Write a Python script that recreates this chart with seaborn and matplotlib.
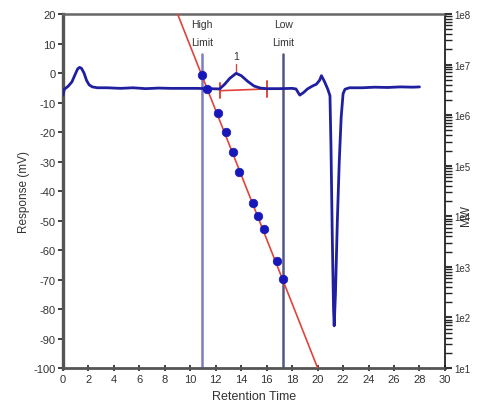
import math
import matplotlib
matplotlib.use("Agg")
import matplotlib.pyplot as plt
import seaborn as sns
import pandas as pd
from matplotlib.ticker import FixedLocator, LogLocator, FuncFormatter, NullFormatter

sns.set_style("ticks")
plt.rcParams["font.family"] = ["Liberation Sans", "DejaVu Sans"]
plt.rcParams["axes.unicode_minus"] = False

# Detector trace (retention time in min, response in mV)
trace_time = [0.0, 0.1, 0.4, 0.7, 0.95, 1.15, 1.3, 1.45, 1.65, 1.85, 2.05, 2.3, 2.7,
              3.5, 4.5, 5.5, 6.5, 7.5, 8.5, 9.5, 10.5, 11.5, 12.3, 12.7, 13.1, 13.6,
              14.0, 14.5, 15.0, 15.5, 16.0, 17.0, 18.0, 18.3, 18.6, 18.9, 19.2, 19.6,
              19.9, 20.15, 20.3, 20.55, 20.8, 20.97, 21.05, 21.15, 21.25, 21.3, 21.4,
              21.55, 21.7, 21.85, 22.0, 22.15, 22.5, 23.5, 24.5, 25.5, 26.5, 27.5, 28.0]
trace_mv = [-7.5, -5.5, -4.5, -3.0, -0.5, 1.4, 1.9, 1.6, 0.0, -2.5, -4.0, -4.7, -5.0,
            -5.0, -5.2, -5.0, -5.3, -5.1, -5.2, -5.2, -5.2, -5.3, -5.4, -3.8, -1.8, -0.1,
            -0.9, -2.8, -4.4, -5.1, -5.3, -5.3, -5.2, -5.4, -7.5, -6.6, -5.4, -4.4,
            -3.8, -2.5, -0.9, -3.0, -5.5, -7.7, -25.0, -55.0, -80.0, -85.7, -75.0,
            -50.0, -30.0, -15.0, -7.0, -5.5, -5.0, -5.0, -4.8, -4.9, -4.7, -4.8, -4.7]

# Calibration standards (retention time vs molecular weight)
std_time = [10.92, 11.28, 12.15, 12.8, 13.33, 13.85, 14.9, 15.3, 15.76, 16.8, 17.3]
std_mw = [6.2e6, 3.3e6, 1.1e6, 4.7e5, 1.9e5, 7.4e4, 1.8e4, 1.0e4, 5.7e3, 1.3e3, 5.8e2]

# Calibration fit end points
cal_time = [9.0, 20.0]
cal_mw = [1e8, 1e1]

# Integration limits
limit_time = [10.92, 17.3]
limit_names = ["High\nLimit", "Low\nLimit"]
limit_colors = ["#7c7cc4", "#55557f"]

# Peak 1 integration baseline and apex
peak_base_time = [12.3, 16.0]
peak_base_mv = [-6.0, -5.4]
peak_apex_time = 13.6
peak_label = "1"

trace = pd.DataFrame({"t": trace_time, "mv": trace_mv})
stds = pd.DataFrame({"t": std_time, "mw": std_mw})
cal = pd.DataFrame({"t": cal_time, "mw": cal_mw})
base = pd.DataFrame({"t": peak_base_time, "mv": peak_base_mv})

fig = plt.figure(figsize=(4.81, 4.14), dpi=100)
ax = fig.add_axes([0.131, 0.1087, 0.794, 0.855])

text_color = "#333333"
red = "#e0443a"

# Limit lines
for t, name, c in zip(limit_time, limit_names, limit_colors):
    ax.plot([t, t], [-100, 6.5], color=c, lw=1.8, zorder=1)
    ax.text(t, 13.6, name, ha="center", va="center", fontsize=7.5,
            linespacing=2.0, color=text_color)

# Chromatogram
sns.lineplot(data=trace, x="t", y="mv", sort=False, estimator=None,
             color="#1f1fa0", lw=2.0, ax=ax, zorder=3)

# Peak 1 baseline with end markers
sns.lineplot(data=base, x="t", y="mv", sort=False, estimator=None,
             color=red, lw=1.2, ax=ax, zorder=2)
for t, v in zip(peak_base_time, peak_base_mv):
    ax.plot([t, t], [v - 2.6, v + 2.6], color=red, lw=1.4, zorder=2)
ax.plot([peak_apex_time, peak_apex_time], [0.8, 3.0], color=red, lw=1.0, zorder=2)
ax.text(peak_apex_time, 5.8, peak_label, ha="center", va="center",
        fontsize=7.5, color=text_color)

ax.set_xlim(0, 30)
ax.set_ylim(-100, 20)
ax.xaxis.set_major_locator(FixedLocator(range(0, 31, 2)))
ax.yaxis.set_major_locator(FixedLocator(range(-100, 21, 10)))
ax.set_xlabel("Retention Time", fontsize=9, color=text_color)
ax.set_ylabel("Response (mV)", fontsize=8.5, color=text_color, labelpad=2)
ax.tick_params(axis="x", direction="inout", length=5, width=1.3, labelsize=8,
               colors=text_color, pad=2)
ax.tick_params(axis="y", direction="out", length=3.5, width=1.3, labelsize=8,
               colors=text_color, pad=2)
for side, w, c in [("left", 2.4, "#555555"), ("bottom", 2.0, "#555555"),
                   ("top", 1.8, "#666666"), ("right", 1.2, "#111111")]:
    ax.spines[side].set_linewidth(w)
    ax.spines[side].set_color(c)

# Molecular weight axis
ax2 = ax.twinx()
ax2.set_yscale("log")
ax2.set_ylim(1e1, 1e8)
sns.lineplot(data=cal, x="t", y="mw", color=red, lw=1.2, ax=ax2, zorder=2)
sns.scatterplot(data=stds, x="t", y="mw", color="#1818b8", s=38, edgecolor="#1818b8",
                linewidth=0.5, ax=ax2, zorder=4)
ax2.set_xlim(0, 30)
ax2.set_xlabel("")
ax2.xaxis.label.set_visible(False)
ax2.yaxis.set_major_locator(LogLocator(base=10, numticks=10))
ax2.yaxis.set_minor_locator(LogLocator(base=10, subs=range(2, 10), numticks=20))
ax2.yaxis.set_major_formatter(FuncFormatter(lambda v, p: f"1e{round(math.log10(v))}"))
ax2.yaxis.set_minor_formatter(NullFormatter())
ax2.tick_params(axis="y", which="major", direction="out", length=5, width=1.5,
                labelsize=7, colors=text_color, pad=2)
ax2.tick_params(axis="y", which="minor", direction="out", length=5, width=1.0,
                colors="#222222")
ax2.set_ylabel("MW", fontsize=8.5, color=text_color, rotation=90)
ax2.yaxis.set_label_coords(1.04, 0.435)
for sp in ax2.spines.values():
    sp.set_visible(False)

fig.savefig("out.png", dpi=100)
